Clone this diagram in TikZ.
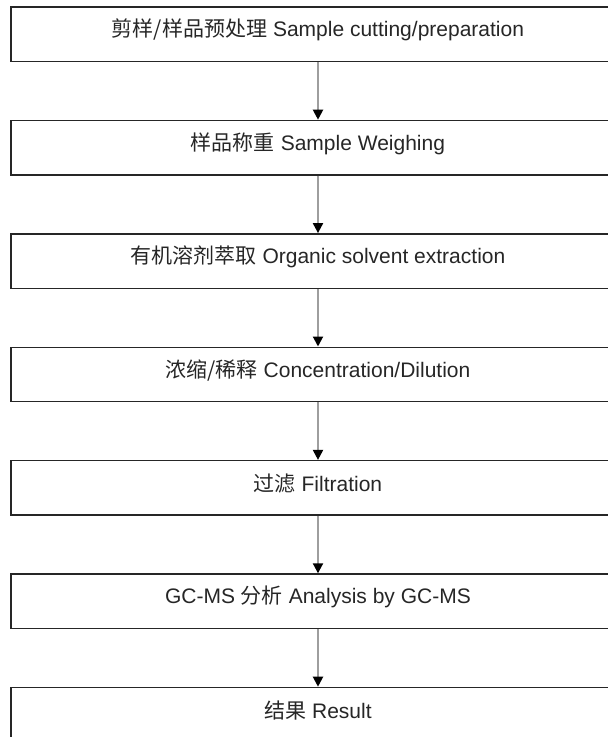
\documentclass[tikz,border=0pt]{standalone}
\usepackage{fontspec}
\setmainfont{Liberation Sans}
\newfontfamily\cjk{Noto Sans CJK SC}
\usetikzlibrary{arrows.meta}
\newcommand{\lift}[1]{\raisebox{4pt}[\height][\depth]{#1}}
\begin{document}
\begin{tikzpicture}
    [
    x=1pt,y=1pt,
    stage/.style={rectangle,draw=black!85,line width=1.4pt,minimum width=614pt,minimum height=54.5pt,inner sep=0pt,text=black!85,font=\fontsize{21}{25}\selectfont},
    flow/.style={draw=black!38,line width=2pt,-{Triangle[color=black,width=10pt,length=10pt]}},
    ]
    \useasboundingbox (0,0) rectangle (608,-737);
    \node (1) at (318,-34.25) [stage] {\lift{{\cjk 剪样/样品预处理} Sample cutting/preparation}};
    \node (2) at (318,-147.65) [stage] {\lift{{\cjk 样品称重} Sample Weighing}};
    \node (3) at (318,-261.05) [stage] {\lift{{\cjk 有机溶剂萃取} Organic solvent extraction}};
    \node (4) at (318,-374.45) [stage] {\lift{{\cjk 浓缩/稀释} Concentration/Dilution}};
    \node (5) at (318,-487.85) [stage] {\lift{{\cjk 过滤} Filtration}};
    \node (6) at (318,-601.25) [stage] {\lift{GC-MS {\cjk 分析} Analysis by GC-MS}};
    \node (7) at (318,-714.65) [stage] {\lift{{\cjk 结果} Result}};
    \draw [flow] (1) to (2);
    \draw [flow] (2) to (3);
    \draw [flow] (3) to (4);
    \draw [flow] (4) to (5);
    \draw [flow] (5) to (6);
    \draw [flow] (6) to (7);
  \end{tikzpicture}
\end{document}
